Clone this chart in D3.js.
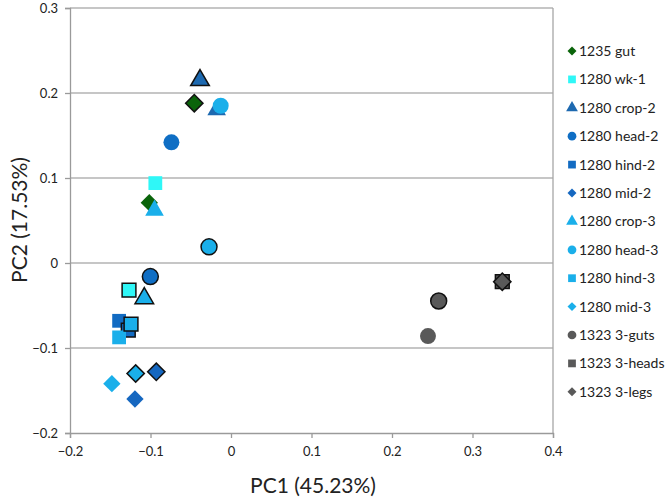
<!DOCTYPE html>
<html><head><meta charset="utf-8">
<script src="https://cdn.jsdelivr.net/npm/d3@7"></script>
<style>body{margin:0;background:#fff}svg{display:block}text{font-family:Lato,"Open Sans",sans-serif}</style>
</head><body><svg id="c" width="666" height="500"></svg>
<script>
const series = ["1235 gut","1280 wk-1","1280 crop-2","1280 head-2","1280 hind-2","1280 mid-2","1280 crop-3","1280 head-3","1280 hind-3","1280 mid-3","1323 3-guts","1323 3-heads","1323 3-legs"];
const shapes = ["diamond","square","triangle","circle","square","diamond","triangle","circle","square","diamond","circle","square","diamond"];
const colors = ["#0a640a","#2ff7f7","#1d69b0","#0f6ec4","#126bc2","#1567c0","#1aafea","#1aafea","#1aafea","#1aafea","#595959","#595959","#595959"];
// two replicates per series: PC1, PC2, outlined flag
const pc1 = [[-0.1015,-0.0456],[-0.094,-0.1267],[-0.0178,-0.0385],[-0.074,-0.1002],[-0.139,-0.1276],[-0.1193,-0.0928],[-0.095,-0.1077],[-0.0128,-0.0273],[-0.139,-0.1242],[-0.148,-0.1184],[0.2447,0.258],[0.337,0.337],[0.337,0.337]];
const pc2 = [[0.071,0.188],[0.094,-0.032],[0.180,0.215],[0.142,-0.016],[-0.068,-0.079],[-0.160,-0.128],[0.062,-0.0415],[0.185,0.019],[-0.0875,-0.072],[-0.142,-0.130],[-0.086,-0.0447],[-0.022,-0.022],[-0.022,-0.022]];
const outlined = [[false,true],[false,true],[false,true],[false,true],[false,true],[false,true],[false,true],[false,true],[false,true],[false,true],[false,true],[false,true],[false,true]];
const xTicks = [-0.2,-0.1,0,0.1,0.2,0.3,0.4];
const yTicks = [-0.2,-0.1,0,0.1,0.2,0.3];

const svg = d3.select("#c");
const L=70,R=553,T=8,B=433;
const x = d3.scaleLinear().domain([-0.2,0.4]).range([L,R]);
const y = d3.scaleLinear().domain([-0.2,0.3]).range([B,T]);
const fmt = d => d===0 ? "0" : d3.format("")(d);

svg.append("g").selectAll("line").data(yTicks.filter(d=>d>-0.2)).join("line")
  .attr("x1",L).attr("x2",R).attr("y1",d=>y(d)).attr("y2",d=>y(d))
  .attr("stroke","#b3b3b3").attr("stroke-width",1.3);
svg.append("line").attr("x1",R).attr("x2",R).attr("y1",T).attr("y2",B).attr("stroke","#a6a6a6").attr("stroke-width",1.3);

const xa = svg.append("g").attr("transform",`translate(0,${B})`)
  .call(d3.axisBottom(x).tickValues(xTicks).tickFormat(fmt).tickSize(5).tickPadding(9));
const ya = svg.append("g").attr("transform",`translate(${L},0)`)
  .call(d3.axisLeft(y).tickValues(yTicks).tickFormat(fmt).tickSize(5).tickPadding(7));
[xa,ya].forEach(a=>{
  a.select(".domain").attr("stroke","#9a9a9a").attr("stroke-width",1.3);
  a.selectAll(".tick line").attr("stroke","#9a9a9a").attr("stroke-width",1.3);
  a.selectAll("text").attr("font-size",13).attr("fill","#222");
});

const sym = {diamond:d3.symbolSquare, square:d3.symbolSquare, triangle:d3.symbolTriangle, circle:d3.symbolCircle};
const area = {diamond:150, square:190, triangle:150, circle:200};
const rot = s => s==="diamond" ? " rotate(45)" : "";
const pts = [];
series.forEach((s,i)=>pc1[i].forEach((v,j)=>pts.push({i, x:v, y:pc2[i][j], o:outlined[i][j]})));
svg.append("g").selectAll("path").data(pts).join("path")
  .attr("transform",d=>`translate(${x(d.x)},${y(d.y)})${rot(shapes[d.i])}`)
  .attr("d",d=>d3.symbol(sym[shapes[d.i]], area[shapes[d.i]])())
  .attr("fill",d=>colors[d.i])
  .attr("stroke",d=>d.o?"#111":"none").attr("stroke-width",1.5);

const lg = svg.append("g").selectAll("g").data(series).join("g")
  .attr("transform",(d,i)=>`translate(572,${51+i*28.4})`);
lg.append("path").attr("transform",(d,i)=>rot(shapes[i]))
  .attr("d",(d,i)=>d3.symbol(sym[shapes[i]], shapes[i]==="diamond"?40:60)()).attr("fill",(d,i)=>colors[i]);
lg.append("text").attr("x",7).attr("dy","0.35em").attr("font-size",14).attr("fill","#222").text(d=>d);

svg.append("text").attr("x",313).attr("y",493).attr("text-anchor","middle").attr("font-size",21).attr("fill","#222").text("PC1 (45.23%)");
svg.append("text").attr("transform","translate(27,220) rotate(-90)").attr("text-anchor","middle").attr("font-size",21).attr("fill","#222").text("PC2 (17.53%)");
</script></body></html>
